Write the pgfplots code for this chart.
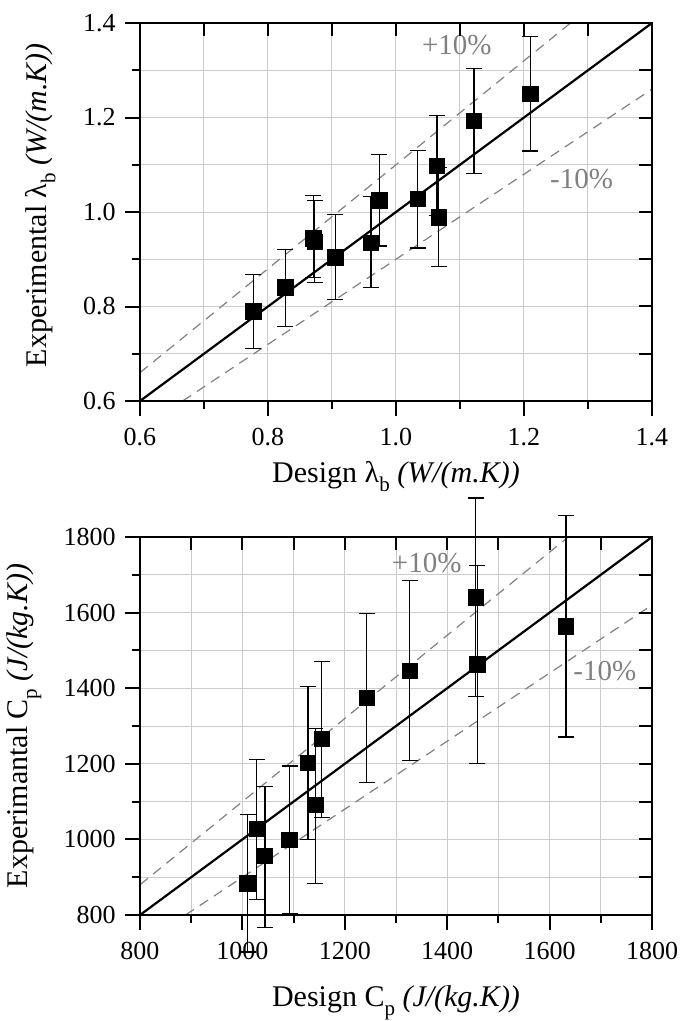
\documentclass[border=0pt]{standalone}
\usepackage{fontspec}
\setmainfont{Liberation Serif}
\usepackage{pgfplots}
\pgfplotsset{compat=1.18}
\usepackage{pgfplotstable}

\definecolor{gridgray}{RGB}{204,204,204}
\definecolor{refgray}{RGB}{128,128,128}

\newcommand{\lsub}[1]{\raisebox{-4.5pt}{\fontsize{10.5}{12}\selectfont #1}}

% design, experimental, error plus, error minus
\pgfplotstableread{
x     y     ep    em
0.777 0.789 0.078 0.078
0.827 0.840 0.080 0.083
0.871 0.944 0.091 0.083
0.873 0.937 0.088 0.087
0.905 0.904 0.090 0.090
0.961 0.935 0.097 0.095
0.974 1.025 0.097 0.097
1.034 1.028 0.102 0.104
1.064 1.098 0.106 0.106
1.067 0.989 0.105 0.105
1.122 1.193 0.110 0.112
1.210 1.250 0.122 0.121
}\lambdadata

\pgfplotstableread{
x    y    ep  em
1010 884  182 182
1028 1028 184 186
1044 956  184 190
1092 999  195 195
1128 1202 202 203
1142 1091 203 207
1155 1266 205 209
1243 1374 223 224
1327 1446 238 238
1456 1641 262 262
1459 1463 261 263
1632 1564 292 293
}\cpdata

\tikzset{pct/.style={refgray, font=\fontsize{14.5}{17}\selectfont}}

\pgfplotsset{
  base/.style={
    scale only axis, width=256pt, height=189pt, clip=false,
    axis line style={line width=1pt},
    tick style={line width=1pt, black},
    ticklabel style={font=\fontsize{13}{15}\selectfont},
    label style={font=\fontsize{15}{18}\selectfont},
    /pgf/number format/assume math mode=true,
  },
  outer/.style={
    base, xtick pos=left, ytick pos=left, tick align=outside,
    major tick length=7.5pt, minor tick length=4pt,
    minor x tick num=1, minor y tick num=1,
    grid=both, grid style={gridgray, line width=0.5pt},
    minor grid style={gridgray, line width=0.5pt},
    xticklabel style={yshift=-2.5pt},
    yticklabel style={xshift=-1.2pt},
    xlabel style={at={(axis description cs:0.5,0)}, anchor=base, inner sep=0pt},
    ylabel style={anchor=south, inner sep=0pt},
  },
  inner/.style={
    base, tick align=inside, xtick pos=right, ytick pos=right,
    xticklabels={}, yticklabels={}, major tick length=6.5pt,
  },
  pts/.style={
    only marks, mark=square*, mark size=3.9pt, black,
    mark options={fill=black},
    error bars/.cd, y dir=both, y explicit,
    error bar style={line width=0.6pt, black},
    error mark options={rotate=90, mark size=4pt, line width=0.6pt, black},
  },
  band/.style={refgray, line width=0.6pt, dash pattern=on 5pt off 3.5pt},
}

\begin{document}
\begin{tikzpicture}
\useasboundingbox (-70pt,200.5pt) rectangle (270pt,-310pt);

% top: thermal conductivity
\begin{axis}[outer, at={(0,0)}, anchor=south west,
  xmin=0.6, xmax=1.4, ymin=0.6, ymax=1.4,
  xtick={0.6,0.8,...,1.4}, ytick={0.6,0.8,...,1.4},
  xticklabel style={/pgf/number format/.cd, fixed, fixed zerofill, precision=1},
  yticklabel style={/pgf/number format/.cd, fixed, fixed zerofill, precision=1},
  xlabel style={yshift=-40.75pt},
  ylabel style={at={(axis description cs:-0.164,0.518)}},
  xlabel={Design λ\lsub{b} \textit{(W/(m.K))}},
  ylabel={Experimental λ\lsub{b} \textit{(W/(m.K))}},
]
\addplot[band] coordinates {(0.6,0.66) (1.2727,1.4)};
\addplot[band] coordinates {(0.6667,0.6) (1.4,1.26)};
\addplot[black, line width=1.1pt] coordinates {(0.6,0.6) (1.4,1.4)};
\addplot[pts] table[x=x, y=y, y error plus=ep, y error minus=em] {\lambdadata};
\node[pct] at (axis cs:1.095,1.353) {+10\%};
\node[pct] at (axis cs:1.29,1.07) {-10\%};
\end{axis}
\begin{axis}[inner, at={(0,0)}, anchor=south west,
  xmin=0.6, xmax=1.4, ymin=0.6, ymax=1.4,
  xtick={0.6,0.7,...,1.41}, ytick={0.6,0.7,...,1.41}]
\end{axis}

% bottom: heat capacity
\begin{axis}[outer, at={(0,-257pt)}, anchor=south west,
  xmin=800, xmax=1800, ymin=800, ymax=1800,
  xtick={800,1000,...,1800}, ytick={800,1000,...,1800},
  /pgf/number format/1000 sep={},
  xlabel style={yshift=-45.5pt},
  ylabel style={at={(axis description cs:-0.192,0.5)}},
  xlabel={Design C\lsub{p} \textit{(J/(kg.K))}},
  ylabel={Experimantal C\lsub{p} \textit{(J/(kg.K))}},
]
\addplot[band] coordinates {(800,880) (1636.4,1800)};
\addplot[band] coordinates {(888.9,800) (1800,1620)};
\addplot[black, line width=1.1pt] coordinates {(800,800) (1800,1800)};
\addplot[pts] table[x=x, y=y, y error plus=ep, y error minus=em] {\cpdata};
\node[pct] at (axis cs:1360,1731) {+10\%};
\node[pct] at (axis cs:1708,1445) {-10\%};
\end{axis}
\begin{axis}[inner, at={(0,-257pt)}, anchor=south west,
  xmin=800, xmax=1800, ymin=800, ymax=1800,
  xtick={800,900,...,1800}, ytick={800,900,...,1800}]
\end{axis}
\end{tikzpicture}
\end{document}
